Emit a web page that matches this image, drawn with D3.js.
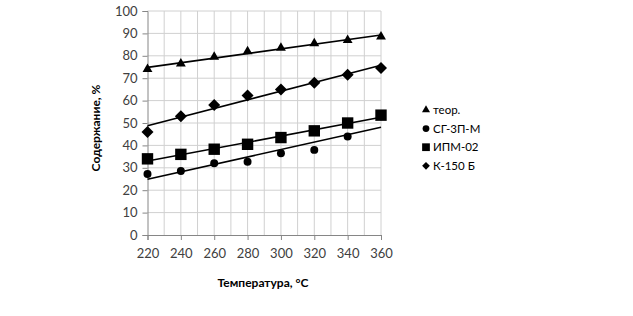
<!DOCTYPE html>
<html>
<head>
<meta charset="utf-8">
<script src="https://cdn.jsdelivr.net/npm/d3@7"></script>
<style>
  body { margin: 0; background: #fff; }
  svg { display: block; font-family: Lato, "Open Sans", sans-serif; }
</style>
</head>
<body>
<div id="chart"></div>
<script>
// Содержание vs температура, четыре серии с линейными трендами
const temps = [220, 240, 260, 280, 300, 320, 340, 360];
const teor = [74, 76.5, 79.5, 82, 83.5, 85.5, 87, 88.5];
const sg3pm = [27.2, 28.6, 32, 32.7, 36.5, 38, 44, 53];
const ipm02 = [34, 36, 38.3, 40.5, 43.5, 46.5, 50, 53.5];
const k150 = [46, 53, 58, 62.3, 65, 68, 71.5, 74.5];
const seriesNames = ["теор.", "СГ-3П-М", "ИПМ-02", "К-150 Б"];
const yTicks = [0, 10, 20, 30, 40, 50, 60, 70, 80, 90, 100];
const xTicks = [220, 240, 260, 280, 300, 320, 340, 360];

const W = 633, H = 316;
const margin = { top: 11, left: 147.5, right: 633 - 381, bottom: 316 - 235 };

const svg = d3.select("#chart").append("svg")
  .attr("width", W)
  .attr("height", H);

const x = d3.scaleLinear().domain([220, 360]).range([margin.left, W - margin.right]);
const y = d3.scaleLinear().domain([0, 100]).range([H - margin.bottom, margin.top]);

// grid
svg.append("g")
  .selectAll("line.v")
  .data(d3.range(230, 361, 10))
  .join("line")
  .attr("x1", d => x(d)).attr("x2", d => x(d))
  .attr("y1", y(0)).attr("y2", y(100))
  .attr("stroke", "#d0d0d0").attr("stroke-width", 1);

svg.append("g")
  .selectAll("line.h")
  .data(yTicks.slice(1))
  .join("line")
  .attr("x1", x(220)).attr("x2", x(360))
  .attr("y1", d => y(d)).attr("y2", d => y(d))
  .attr("stroke", "#d0d0d0").attr("stroke-width", 1);

// axes
const yAxis = svg.append("g")
  .attr("transform", `translate(${x(220)},0)`)
  .call(d3.axisLeft(y).tickValues(yTicks).tickSize(5).tickPadding(5));
const xAxis = svg.append("g")
  .attr("transform", `translate(0,${y(0)})`)
  .call(d3.axisBottom(x).tickValues(xTicks).tickSize(5).tickPadding(9));

[yAxis, xAxis].forEach(a => {
  a.select(".domain").attr("stroke", "#868686");
  a.selectAll(".tick line").attr("stroke", "#868686");
  a.selectAll(".tick text")
    .attr("fill", "#404040")
    .style("font-size", "13px")
    .style("font-family", "Lato, 'Open Sans', sans-serif");
});

// trendlines (least squares)
const allSeries = [teor, sg3pm, ipm02, k150];
function fit(vals) {
  const mx = d3.mean(temps), my = d3.mean(vals);
  const b = d3.sum(temps, (t, i) => (t - mx) * (vals[i] - my)) / d3.sum(temps, t => (t - mx) ** 2);
  return [[220, my + b * (220 - mx)], [360, my + b * (360 - mx)]];
}
const line = d3.line().x(d => x(d[0])).y(d => y(d[1]));
svg.append("g")
  .selectAll("path")
  .data(allSeries.map(fit))
  .join("path")
  .attr("d", line)
  .attr("fill", "none")
  .attr("stroke", "#000")
  .attr("stroke-width", 1.6);

// markers (diamond = rotated square)
const symbols = [
  { s: d3.symbol().type(d3.symbolTriangle).size(42), r: 0 },
  { s: d3.symbol().type(d3.symbolCircle).size(50), r: 0 },
  { s: d3.symbol().type(d3.symbolSquare).size(130), r: 0 },
  { s: d3.symbol().type(d3.symbolSquare).size(72), r: 45 }
];
const legendSymbols = [
  { s: d3.symbol().type(d3.symbolTriangle).size(28), r: 0 },
  { s: d3.symbol().type(d3.symbolCircle).size(36), r: 0 },
  { s: d3.symbol().type(d3.symbolSquare).size(60), r: 0 },
  { s: d3.symbol().type(d3.symbolSquare).size(30), r: 45 }
];

allSeries.forEach((vals, si) => {
  svg.append("g")
    .selectAll("path")
    .data(vals)
    .join("path")
    .attr("transform", (d, i) => `translate(${x(temps[i])},${y(d)}) rotate(${symbols[si].r})`)
    .attr("d", symbols[si].s())
    .attr("fill", "#000");
});

// legend
const legend = svg.append("g").attr("transform", "translate(426,110)");
seriesNames.forEach((name, i) => {
  const row = legend.append("g").attr("transform", `translate(0,${i * 18.6})`);
  row.append("path")
    .attr("d", legendSymbols[i].s())
    .attr("transform", `rotate(${legendSymbols[i].r})`)
    .attr("fill", "#000");
  row.append("text")
    .attr("x", 7)
    .attr("dy", "0.35em")
    .style("font-size", "11.5px")
    .attr("fill", "#000")
    .text(name);
});

// axis titles
svg.append("text")
  .attr("transform", `translate(100,${(y(0) + y(100)) / 2 + 5}) rotate(-90)`)
  .attr("text-anchor", "middle")
  .style("font-size", "12px")
  .style("font-weight", "bold")
  .text("Содержание, %");

svg.append("text")
  .attr("x", 263)
  .attr("y", 287)
  .attr("text-anchor", "middle")
  .style("font-size", "12px")
  .style("font-weight", "bold")
  .text("Температура, °С");
</script>
</body>
</html>
